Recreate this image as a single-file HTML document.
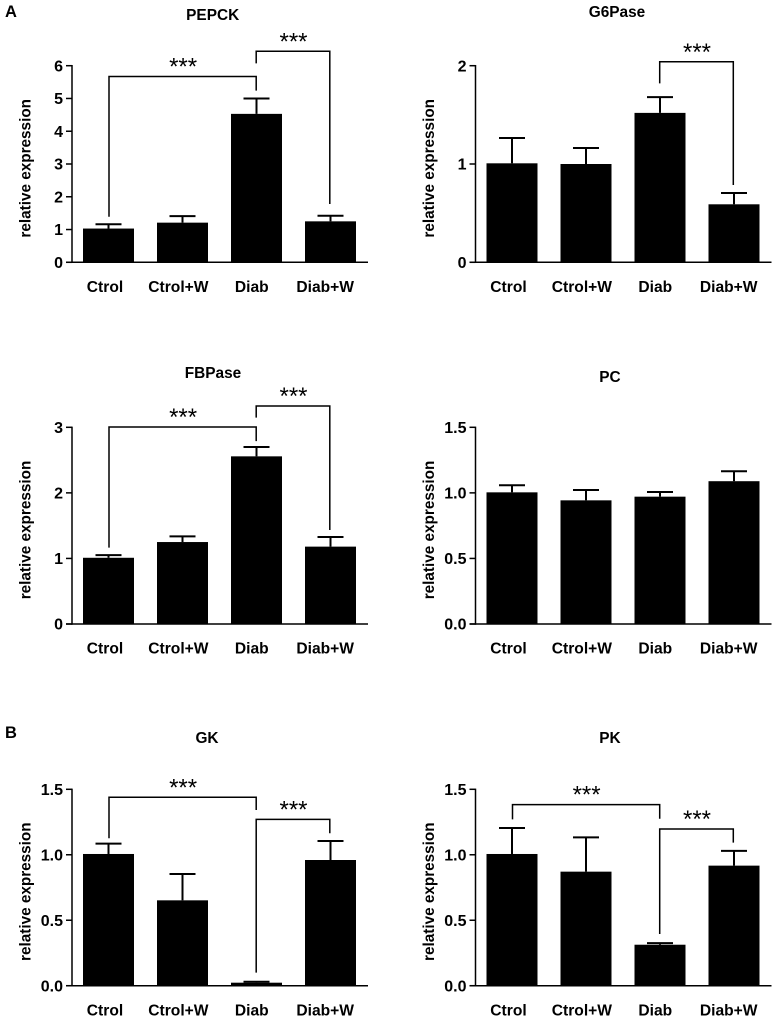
<!DOCTYPE html>
<html lang="en">
<head>
<meta charset="utf-8">
<title>Relative expression of gluconeogenic and glycolytic enzymes</title>
<style>
html,body{margin:0;padding:0;background:#fff;width:776px;height:1020px;overflow:hidden}
svg{display:block}
text{font-family:"Liberation Sans",Arial,sans-serif;fill:#000}
.b{font-weight:700}
</style>
</head>
<body>
<svg id="figure" width="776" height="1020" viewBox="0 0 776 1020" xmlns="http://www.w3.org/2000/svg">
  <text class="b" x="5" y="17" font-size="16.5">A</text>
  <text class="b" x="5" y="738" font-size="16.5">B</text>
</svg>
<script>
// Shared categories
const categories = ['Ctrol', 'Ctrol+W', 'Diab', 'Diab+W'];

// PEPCK
const pepckValues = [1.03, 1.21, 4.53, 1.25];
const pepckErrorTops = [1.16, 1.41, 5.0, 1.42];
const pepckTicks = [0, 1, 2, 3, 4, 5, 6];
const pepckTickLabels = ['0', '1', '2', '3', '4', '5', '6'];
// [from category, to category, bracket top value, left leg end value, right leg end value]
const pepckBrackets = [[0, 2, 5.67, 1.39, 5.24], [2, 3, 6.44, 6.07, 1.78]];

// G6Pase
const g6paseValues = [1.007, 1.0, 1.52, 0.59];
const g6paseErrorTops = [1.264, 1.163, 1.68, 0.705];
const g6paseTicks = [0, 1, 2];
const g6paseTickLabels = ['0', '1', '2'];
const g6paseBrackets = [[2, 3, 2.04, 1.82, 0.786]];

// FBPase
const fbpaseValues = [1.01, 1.25, 2.557, 1.18];
const fbpaseErrorTops = [1.05, 1.337, 2.70, 1.327];
const fbpaseTicks = [0, 1, 2, 3];
const fbpaseTickLabels = ['0', '1', '2', '3'];
const fbpaseBrackets = [[0, 2, 3.005, 1.164, 2.79], [2, 3, 3.325, 3.147, 1.434]];

// PC
const pcValues = [1.004, 0.943, 0.971, 1.089];
const pcErrorTops = [1.058, 1.022, 1.007, 1.165];
const pcTicks = [0, 0.5, 1, 1.5];
const pcTickLabels = ['0.0', '0.5', '1.0', '1.5'];
const pcBrackets = [];

// GK
const gkValues = [1.006, 0.652, 0.023, 0.96];
const gkErrorTops = [1.085, 0.853, 0.03, 1.105];
const gkTicks = [0, 0.5, 1, 1.5];
const gkTickLabels = ['0.0', '0.5', '1.0', '1.5'];
const gkBrackets = [[0, 2, 1.439, 1.126, 1.342], [2, 3, 1.27, 0.10, 1.164]];

// PK
const pkValues = [1.006, 0.871, 0.313, 0.917];
const pkErrorTops = [1.204, 1.133, 0.325, 1.03];
const pkTicks = [0, 0.5, 1, 1.5];
const pkTickLabels = ['0.0', '0.5', '1.0', '1.5'];
const pkBrackets = [[0, 2, 1.383, 1.27, 1.275], [2, 3, 1.197, 0.395, 1.093]];

const NS = 'http://www.w3.org/2000/svg';
const svg = document.getElementById('figure');

function make(parent, tag, props, content) {
  const el = document.createElementNS(NS, tag);
  for (const k in props) el.setAttribute(k, props[k]);
  if (content !== undefined) el.textContent = content;
  parent.appendChild(el);
  return el;
}

function line(parent, x1, y1, x2, y2, width) {
  return make(parent, 'line', {x1: x1, y1: y1, x2: x2, y2: y2, stroke: '#000', 'stroke-width': width});
}

function drawPanel(p) {
  const axisX = p.dx + 72;
  const maxTick = p.ticks[p.ticks.length - 1];
  const yScale = v => p.base - (v / maxTick) * (p.base - p.top);
  const xScale = i => p.dx + 108.5 + i * 74;
  const bracketX = i => p.dx + 109 + i * 73.6;
  const labelX = i => p.dx + 105 + i * 73.4;

  const g = make(svg, 'g', {});
  
  

  const title = make(g, 'text', {class: 'b', x: p.titleX, y: p.titleY, 'font-size': 15.4, 'text-anchor': 'middle'}, p.title);
  
  

  const yTitle = make(g, 'text', {class: 'b', 'font-size': 15.3, 'text-anchor': 'middle',
    transform: 'translate(' + (p.dx + 30.5) + ',' + (p.base - 94) + ') rotate(-90)'}, 'relative expression');
  
  

  categories.forEach((c, i) => {
    const x = xScale(i);
    const bar = make(g, 'rect', {x: x - 25.5, y: yScale(p.values[i]), width: 51, height: p.base - yScale(p.values[i]), fill: '#000'});
    
    

    const stem = line(g, x, yScale(p.values[i]), x, yScale(p.errors[i]), 2);
    
    

    const cap = line(g, x - 13, yScale(p.errors[i]), x + 13, yScale(p.errors[i]), 2);
    
    

    const lab = make(g, 'text', {class: 'b', x: labelX(i), y: p.base + 29.6, 'font-size': 15.6, 'text-anchor': 'middle'}, c);
    
    
  });

  const yAxis = line(g, axisX, p.top - 0.7, axisX, p.base + 0.7, 1.5);
  
  

  const xAxis = line(g, p.dx + 66, p.base, p.dx + 368, p.base, 1.5);
  
  

  p.ticks.forEach((t, i) => {
    const y = yScale(t);
    const tick = line(g, p.dx + 66, y, axisX, y, 1.5);
    
    

    const lab = make(g, 'text', {class: 'b', x: p.dx + 63, y: y + 5.7, 'font-size': 16, 'text-anchor': 'end'}, p.tickLabels[i]);
    
    
  });

  p.brackets.forEach(b => {
    const xa = bracketX(b[0]), xb = bracketX(b[1]);
    const yt = yScale(b[2]);
    const path = make(g, 'path', {
      d: 'M' + xa + ' ' + yScale(b[3]) + 'V' + yt + 'H' + xb + 'V' + yScale(b[4]),
      fill: 'none', stroke: '#000', 'stroke-width': 1.5
    });
    
    

    const stars = make(g, 'text', {x: (xa + xb) / 2 + 0.5, y: yt - 2, 'font-size': 24, 'text-anchor': 'middle'}, '***');
    
    
  });
}

drawPanel({key: 'pepck', title: 'PEPCK', titleX: 212.7, titleY: 20, dx: 0, base: 262.3, top: 65.7,
  values: pepckValues, errors: pepckErrorTops, ticks: pepckTicks, tickLabels: pepckTickLabels, brackets: pepckBrackets});
drawPanel({key: 'g6pase', title: 'G6Pase', titleX: 617, titleY: 17, dx: 403.5, base: 262.3, top: 65.7,
  values: g6paseValues, errors: g6paseErrorTops, ticks: g6paseTicks, tickLabels: g6paseTickLabels, brackets: g6paseBrackets});
drawPanel({key: 'fbpase', title: 'FBPase', titleX: 213, titleY: 378, dx: 0, base: 624, top: 427.3,
  values: fbpaseValues, errors: fbpaseErrorTops, ticks: fbpaseTicks, tickLabels: fbpaseTickLabels, brackets: fbpaseBrackets});
drawPanel({key: 'pc', title: 'PC', titleX: 610, titleY: 382, dx: 403.5, base: 624, top: 427.3,
  values: pcValues, errors: pcErrorTops, ticks: pcTicks, tickLabels: pcTickLabels, brackets: pcBrackets});
drawPanel({key: 'gk', title: 'GK', titleX: 207, titleY: 743, dx: 0, base: 985.7, top: 789.3,
  values: gkValues, errors: gkErrorTops, ticks: gkTicks, tickLabels: gkTickLabels, brackets: gkBrackets});
drawPanel({key: 'pk', title: 'PK', titleX: 610, titleY: 743, dx: 403.5, base: 985.7, top: 789.3,
  values: pkValues, errors: pkErrorTops, ticks: pkTicks, tickLabels: pkTickLabels, brackets: pkBrackets});
</script>
</body>
</html>
